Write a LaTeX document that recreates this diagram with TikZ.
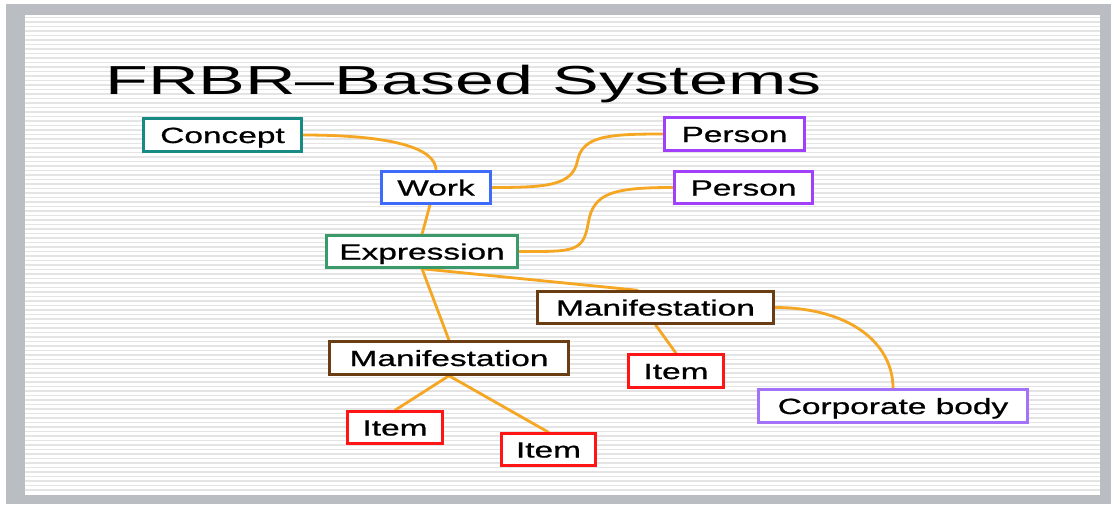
\documentclass[tikz,border=0pt]{standalone}
\usepackage{fontspec}
\usepackage{graphicx}
\setmainfont{Liberation Sans}
\newfontfamily\boxfont[FakeBold=0.7]{Liberation Sans}
\usetikzlibrary{calc}
\pgfdeclarelayer{bg}
\pgfsetlayers{bg,main}
\definecolor{frame}{HTML}{BABEC2}
\definecolor{stripe}{HTML}{E4E4E4}
\definecolor{wire}{HTML}{F5A623}
\definecolor{cteal}{HTML}{178A85}
\definecolor{cblue}{HTML}{3F6BFA}
\definecolor{cpurple}{HTML}{A040FA}
\definecolor{clilac}{HTML}{A472F8}
\definecolor{cgreen}{HTML}{3A9A6A}
\definecolor{cbrown}{HTML}{6B3D12}
\definecolor{cred}{HTML}{FF1515}
\newcommand{\widetxt}[1]{\scalebox{1.52}[1]{#1}}
\tikzset{
  entity/.style={draw=#1, line width=2.5pt, fill=white, inner sep=0pt,
    font=\boxfont\fontsize{22}{26}\selectfont, text height=18pt, text depth=2pt},
  wirestyle/.style={draw=wire, line width=2.8pt, line cap=round},
  stripeline/.style={draw=stripe, line width=1.4pt}
}
\begin{document}
\begin{tikzpicture}[x=1pt,y=-1pt]
\useasboundingbox (0,0) rectangle (1115,504);
\begin{pgfonlayer}{bg}
  \fill[white] (0,0) rectangle (1115,504);
  \fill[frame] (6,4) rectangle (1111,504);
  \fill[white] (25,15) rectangle (1100,495);
  \foreach \yy in {17.5,22,...,493} { \draw[stripeline] (25,\yy) -- (1100,\yy); }
\end{pgfonlayer}

\node[anchor=base west, font=\fontsize{40.5}{46}\selectfont, inner sep=0pt] (title) at (105,94) {\scalebox{1.73}[1]{FRBR–Based Systems}};

\node[entity=cteal,   minimum width=158pt, minimum height=33pt] (concept) at (222.5,135)   {\widetxt{Concept}};
\node[entity=cblue,   minimum width=109pt, minimum height=32pt] (work)    at (436,187.5)   {\widetxt{Work}};
\node[entity=cpurple, minimum width=140pt, minimum height=33pt] (person1) at (734.5,134)   {\widetxt{Person}};
\node[entity=cpurple, minimum width=138pt, minimum height=32pt] (person2) at (743.5,187.5) {\widetxt{Person}};
\node[entity=cgreen,  minimum width=191pt, minimum height=32pt] (expr)    at (422,251.5)   {\widetxt{Expression}};
\node[entity=cbrown,  minimum width=236pt, minimum height=32pt] (manif2)  at (655.5,307.5) {\widetxt{Manifestation}};
\node[entity=cbrown,  minimum width=239pt, minimum height=33pt] (manif1)  at (449,358)     {\widetxt{Manifestation}};
\node[entity=cred,    minimum width=95pt,  minimum height=33pt] (itemr)   at (676,371)     {\widetxt{Item}};
\node[entity=clilac,  minimum width=269pt, minimum height=33pt] (corp)    at (893,406)     {\widetxt{Corporate body}};
\node[entity=cred,    minimum width=95pt,  minimum height=32pt] (item1)   at (395,427.5)   {\widetxt{Item}};
\node[entity=cred,    minimum width=94pt,  minimum height=32pt] (item2)   at (548.5,449.5) {\widetxt{Item}};

\begin{pgfonlayer}{bg}
  \draw[wirestyle] (concept.east) .. controls +(90,0) and +(0,-22) .. (work.north);
  \draw[wirestyle] (work.east) .. controls +(55,0) and +(-5,25) .. ($(work.east)!0.5!(person1.west)$)
                   .. controls +(5,-25) and +(-55,0) .. (person1.west);
  \draw[wirestyle] (expr.east) .. controls +(55,0) and +(-5,30) .. ($(expr.east)!0.45!(person2.west)$)
                   .. controls +(5,-30) and +(-60,0) .. (person2.west);
  \draw[wirestyle] ([xshift=-6pt]work.south) -- (expr.north);
  \draw[wirestyle] (expr.south) -- ([xshift=-18pt]manif2.north);
  \draw[wirestyle] (expr.south) -- (manif1.north);
  \draw[wirestyle] (manif1.south) -- (item1.north);
  \draw[wirestyle] (manif1.south) -- (item2.north);
  \draw[wirestyle] (manif2.south) -- (itemr.north);
  \draw[wirestyle] (manif2.east) .. controls +(75,0) and +(0,-45) .. (corp.north);
\end{pgfonlayer}
\end{tikzpicture}
\end{document}
